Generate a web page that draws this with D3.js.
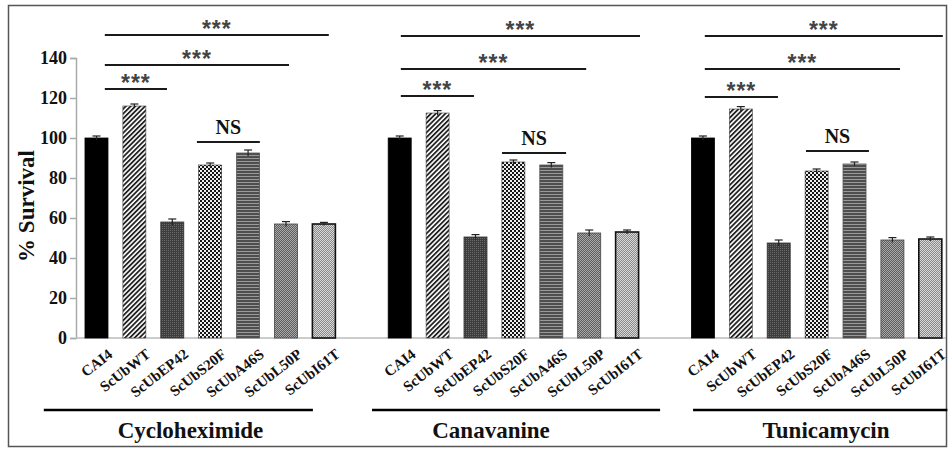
<!DOCTYPE html>
<html lang="en">
<head>
<meta charset="utf-8">
<script src="https://d3js.org/d3.v7.min.js"></script>
<style type="text/css">
body {
	margin: 0;
	background: #fff;
}
text {
	font-family: "Liberation Serif", "Times New Roman", serif;
	font-weight: bold;
}
</style>
</head>
<body>
<script type="text/javascript">

// data
var strains = ["CAI4", "ScUbWT", "ScUbEP42", "ScUbS20F", "ScUbA46S", "ScUbL50P", "ScUbI61T"];
var treatments = ["Cycloheximide", "Canavanine", "Tunicamycin"];

var cycloheximide = [100, 116, 58, 86.5, 92.5, 57, 57];
var canavanine    = [100, 112.5, 50.5, 88, 86.5, 52.5, 53];
var tunicamycin   = [100, 114.5, 47.5, 83.5, 87, 49, 49.5];

var cycloheximideErr = [1, 1, 1.5, 1, 1.5, 1.2, 0.8];
var canavanineErr    = [1, 1.2, 1.2, 1, 1.2, 1.5, 1];
var tunicamycinErr   = [1, 1.2, 1.5, 1, 1, 1.2, 1];

var yTicks = [0, 20, 40, 60, 80, 100, 120, 140];

// significance brackets: start / end in bar slots (relative to CAI4), height in % survival
var sigLabels = ["***", "***", "***", "NS"];
var cycloSigFrom = [0.22, 0.22, 0.22, 2.65];
var cycloSigTo   = [6.13, 5.08, 1.86, 4.31];
var cycloSigY    = [151.5, 136.5, 124.5, 98];
var canaSigFrom  = [0.03, 0.03, 0.03, 2.7];
var canaSigTo    = [6.34, 4.92, 1.96, 4.39];
var canaSigY     = [151, 134.5, 121, 92.5];
var tuniSigFrom  = [0.05, 0.05, 0.05, 2.72];
var tuniSigTo    = [6.33, 5.2, 1.98, 4.38];
var tuniSigY     = [151, 134.5, 120.5, 93.5];

// underline under each treatment name, and name position, in bar slots
var groupLineFrom = [-1.39, -0.73, -0.26];
var groupLineTo   = [5.71, 6.87, 6.45];
var groupLabelAt  = [2.48, 2.41, 3.25];

var values = [cycloheximide, canavanine, tunicamycin];
var errors = [cycloheximideErr, canavanineErr, tunicamycinErr];
var sigFrom = [cycloSigFrom, canaSigFrom, tuniSigFrom];
var sigTo = [cycloSigTo, canaSigTo, tuniSigTo];
var sigY = [cycloSigY, canaSigY, tuniSigY];

var width = 949;
var height = 449;

var svg = d3.select("body")
	.append("svg")
	.attr("width", width)
	.attr("height", height);

// ---- patterns ----
var defs = svg.append("defs");

var pDiag = defs.append("pattern")
	.attr("id", "p-diag")
	.attr("patternUnits", "userSpaceOnUse")
	.attr("width", 3.4).attr("height", 3.4)
	.attr("patternTransform", "rotate(45)");
pDiag.append("rect").attr("width", 3.4).attr("height", 3.4).attr("fill", "#fff");
pDiag.append("rect").attr("width", 1.8).attr("height", 3.4).attr("fill", "#222");

var pEp = defs.append("pattern")
	.attr("id", "p-ep")
	.attr("patternUnits", "userSpaceOnUse")
	.attr("width", 2).attr("height", 2);
pEp.append("rect").attr("width", 2).attr("height", 2).attr("fill", "#3d3d3d");
pEp.append("rect").attr("width", 1).attr("height", 1).attr("fill", "#6a6a6a");

var pChk = defs.append("pattern")
	.attr("id", "p-chk")
	.attr("patternUnits", "userSpaceOnUse")
	.attr("width", 4).attr("height", 4);
pChk.append("rect").attr("width", 4).attr("height", 4).attr("fill", "#eee");
pChk.append("rect").attr("width", 2).attr("height", 2).attr("fill", "#151515");
pChk.append("rect").attr("x", 2).attr("y", 2).attr("width", 2).attr("height", 2).attr("fill", "#151515");

var pHor = defs.append("pattern")
	.attr("id", "p-hor")
	.attr("patternUnits", "userSpaceOnUse")
	.attr("width", 3).attr("height", 3);
pHor.append("rect").attr("width", 3).attr("height", 3).attr("fill", "#9a9a9a");
pHor.append("rect").attr("width", 3).attr("height", 2).attr("fill", "#4e4e4e");

var pGrey = defs.append("pattern")
	.attr("id", "p-grey")
	.attr("patternUnits", "userSpaceOnUse")
	.attr("width", 2).attr("height", 2);
pGrey.append("rect").attr("width", 2).attr("height", 2).attr("fill", "#5e5e5e");
pGrey.append("rect").attr("width", 1).attr("height", 1).attr("fill", "#a8a8a8");
pGrey.append("rect").attr("x", 1).attr("y", 1).attr("width", 1).attr("height", 1).attr("fill", "#a8a8a8");

var pLight = defs.append("pattern")
	.attr("id", "p-light")
	.attr("patternUnits", "userSpaceOnUse")
	.attr("width", 2).attr("height", 2);
pLight.append("rect").attr("width", 2).attr("height", 2).attr("fill", "#8a8a8a");
pLight.append("rect").attr("width", 1).attr("height", 1).attr("fill", "#d8d8d8");
pLight.append("rect").attr("x", 1).attr("y", 1).attr("width", 1).attr("height", 1).attr("fill", "#d8d8d8");

var fills = ["#000", "url(#p-diag)", "url(#p-ep)", "url(#p-chk)", "url(#p-hor)", "url(#p-grey)", "url(#p-light)"];
var strokes = ["#000", "#444", "#333", "#333", "#555", "#444", "#111"];
var strokeW = [0.8, 0.6, 0.8, 0.6, 0.8, 0.8, 1.6];

// ---- scales ----
var nSlots = treatments.length * (strains.length + 1) - 1;

var x = d3.scaleBand()
	.domain(d3.range(nSlots))
	.range([77.4, 949.4])
	.paddingInner(0.393)
	.paddingOuter(0.2);

// slot (can be fractional) -> pixel centre
function xs(s) {
	return x(0) + x.bandwidth() / 2 + s * x.step();
}

var y = d3.scaleLinear()
	.domain([0, 140])
	.range([338, 58]);

// frame
svg.append("rect")
	.attr("x", 8.5).attr("y", 5.5)
	.attr("width", 938).attr("height", 441)
	.attr("fill", "none")
	.attr("stroke", "#555")
	.attr("stroke-width", 1.5);

// ---- y axis ----
var yAxis = svg.append("g")
	.attr("transform", "translate(76,0)")
	.call(d3.axisLeft(y).tickValues(yTicks).tickSize(6).tickPadding(3));
yAxis.select(".domain").attr("stroke", "#aaa").attr("stroke-width", 1.5);
yAxis.selectAll(".tick line").attr("stroke", "#aaa").attr("stroke-width", 1.5);
yAxis.selectAll(".tick text")
	.attr("fill", "#111")
	.style("font-size", "18px")
	.style("font-family", "'Liberation Serif', serif")
	.style("font-weight", "bold");

// baseline
svg.append("line")
	.attr("x1", 76).attr("x2", 946)
	.attr("y1", y(0)).attr("y2", y(0))
	.attr("stroke", "#bbb")
	.attr("stroke-width", 1.5);

svg.append("text")
	.attr("transform", "translate(34," + y(66) + ") rotate(-90)")
	.attr("text-anchor", "middle")
	.style("font-size", "23px")
	.attr("fill", "#111")
	.text("% Survival");

// ---- bars ----
var rows = [];
treatments.forEach(function(t, g) {
	strains.forEach(function(s, i) {
		rows.push({ g: g, i: i, slot: g * (strains.length + 1) + i, v: values[g][i], e: errors[g][i], name: s });
	});
});

svg.selectAll("rect.bar")
	.data(rows)
	.enter()
	.append("rect")
	.attr("class", "bar")
	.attr("x", function(d) { return x(d.slot); })
	.attr("y", function(d) { return y(d.v); })
	.attr("width", x.bandwidth())
	.attr("height", function(d) { return y(0) - y(d.v); })
	.attr("fill", function(d) { return fills[d.i]; })
	.attr("stroke", function(d) { return strokes[d.i]; })
	.attr("stroke-width", function(d) { return strokeW[d.i]; });

// error bars
var err = svg.selectAll("g.err")
	.data(rows)
	.enter()
	.append("g")
	.attr("class", "err")
	.attr("stroke", "#222")
	.attr("stroke-width", 1.2);
err.append("line")
	.attr("x1", function(d) { return xs(d.slot); })
	.attr("x2", function(d) { return xs(d.slot); })
	.attr("y1", function(d) { return y(d.v - d.e); })
	.attr("y2", function(d) { return y(d.v + d.e); });
err.append("line")
	.attr("x1", function(d) { return xs(d.slot) - 4; })
	.attr("x2", function(d) { return xs(d.slot) + 4; })
	.attr("y1", function(d) { return y(d.v + d.e); })
	.attr("y2", function(d) { return y(d.v + d.e); });

// strain labels
svg.selectAll("text.strain")
	.data(rows)
	.enter()
	.append("text")
	.attr("class", "strain")
	.attr("text-anchor", "end")
	.attr("transform", function(d) { return "translate(" + (xs(d.slot) + 17) + ",356) rotate(-38)"; })
	.style("font-size", "15px")
	.attr("fill", "#111")
	.text(function(d) { return d.name; });

// ---- treatment groups ----
treatments.forEach(function(t, g) {
	var base = g * (strains.length + 1);

	svg.append("line")
		.attr("x1", xs(base + groupLineFrom[g]))
		.attr("x2", xs(base + groupLineTo[g]))
		.attr("y1", 410).attr("y2", 410)
		.attr("stroke", "#000")
		.attr("stroke-width", 2.5);

	svg.append("text")
		.attr("x", xs(base + groupLabelAt[g]))
		.attr("y", 438)
		.attr("text-anchor", "middle")
		.style("font-size", "23px")
		.attr("fill", "#111")
		.text(t);

	// significance
	sigLabels.forEach(function(lab, k) {
		var x1 = xs(base + sigFrom[g][k]);
		var x2 = xs(base + sigTo[g][k]);
		var yy = y(sigY[g][k]);
		svg.append("line")
			.attr("x1", x1).attr("x2", x2)
			.attr("y1", yy).attr("y2", yy)
			.attr("stroke", "#1a1a1a")
			.attr("stroke-width", 2);
		if (lab == "NS") {
			svg.append("text")
				.attr("x", (x1 + x2) / 2)
				.attr("y", yy - 8)
				.attr("text-anchor", "middle")
				.style("font-size", "20px")
				.attr("fill", "#111")
				.text(lab);
		} else {
			svg.append("text")
				.attr("x", (x1 + x2) / 2)
				.attr("y", yy + 2)
				.attr("text-anchor", "middle")
				.attr("letter-spacing", "1px")
				.style("font-family", "'Liberation Sans', sans-serif")
				.style("font-size", "23px")
				.attr("fill", "#444")
				.text(lab);
		}
	});
});

</script>
</body>
</html>
